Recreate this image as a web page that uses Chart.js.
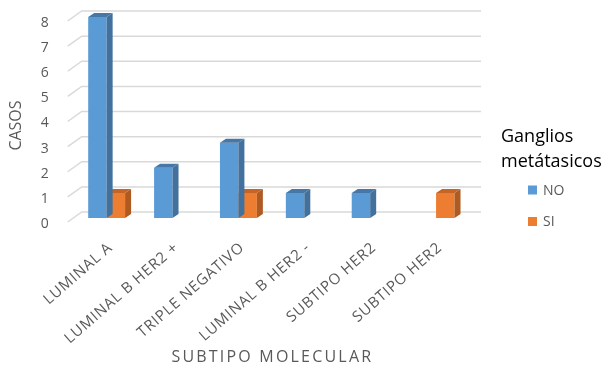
<!DOCTYPE html>
<html>
<head>
<meta charset="utf-8">
<script src="https://cdn.jsdelivr.net/npm/chart.js@4/dist/chart.umd.min.js"></script>
<style>
  html, body { margin: 0; padding: 0; background: #ffffff; }
  #wrap { width: 606px; height: 370px; }
</style>
</head>
<body>
<div id="wrap"><canvas id="c" width="606" height="370"></canvas></div>
<script>
// Casos por subtipo molecular, según presencia de ganglios metastásicos
const categories = ['LUMINAL A', 'LUMINAL B HER2 +', 'TRIPLE NEGATIVO', 'LUMINAL B HER2 -', 'SUBTIPO HER2', 'SUBTIPO HER2'];
const seriesNames = ['NO', 'SI'];
const noValues = [8, 2, 3, 1, 1, 0];
const siValues = [1, 0, 1, 0, 0, 1];
const yTicks = [0, 1, 2, 3, 4, 5, 6, 7, 8];
const legendTitle = ['Ganglios', 'metátasicos'];
const yTitle = 'CASOS';
const xTitle = 'SUBTIPO MOLECULAR';

const FONT = "'Open Sans', 'DejaVu Sans', sans-serif";
const GREY = '#595959';
const frontColors = ['#5B9BD5', '#ED7D31'];
const faceColors = [
  { side: '#41719C', top: '#4777A6' },
  { side: '#AE5A21', top: '#C46426' }
];
const DX = 6, DY = 4;
const LABEL_ANGLE = 41 * Math.PI / 180;

// back wall gridlines with a short floor diagonal on the left
const wallPlugin = {
  id: 'wall',
  beforeDatasetsDraw(chart) {
    const { ctx, chartArea: a, scales: { y } } = chart;
    ctx.save();
    ctx.strokeStyle = '#D9D9D9';
    ctx.lineWidth = 1.5;
    yTicks.forEach(v => {
      const yf = y.getPixelForValue(v);
      ctx.beginPath();
      ctx.moveTo(a.left - 6, yf + 4);
      ctx.lineTo(a.left + 8, yf - 6);
      ctx.lineTo(a.right + 12, yf - 6);
      ctx.stroke();
    });
    ctx.restore();
  }
};

// side and top faces giving each bar its depth
const bar3dPlugin = {
  id: 'bar3d',
  afterDatasetDraw(chart, args) {
    const ctx = chart.ctx;
    const c = faceColors[args.index];
    const values = chart.data.datasets[args.index].data;
    ctx.save();
    args.meta.data.forEach((bar, i) => {
      if (!values[i]) return;
      const { x, y, base, width } = bar.getProps(['x', 'y', 'base', 'width'], true);
      const l = x - width / 2, r = x + width / 2;
      ctx.fillStyle = c.side;
      ctx.beginPath();
      ctx.moveTo(r, y); ctx.lineTo(r + DX, y - DY);
      ctx.lineTo(r + DX, base - DY); ctx.lineTo(r, base);
      ctx.closePath(); ctx.fill();
      ctx.fillStyle = c.top;
      ctx.beginPath();
      ctx.moveTo(l, y); ctx.lineTo(l + DX, y - DY);
      ctx.lineTo(r + DX, y - DY); ctx.lineTo(r, y);
      ctx.closePath(); ctx.fill();
    });
    ctx.restore();
  }
};

// slanted category labels, axis titles and the legend block on the right
const textPlugin = {
  id: 'texts',
  afterDraw(chart) {
    const { ctx, chartArea: a, scales: { x } } = chart;

    ctx.save();
    ctx.fillStyle = GREY;
    ctx.font = `15px ${FONT}`;
    ctx.letterSpacing = '0.8px';
    ctx.textAlign = 'right';
    ctx.textBaseline = 'top';
    categories.forEach((label, i) => {
      const px = x.getPixelForValue(i);
      ctx.save();
      ctx.translate(px - 1, a.bottom + 22);
      ctx.rotate(-LABEL_ANGLE);
      ctx.fillText(label, 0, 0);
      ctx.restore();
    });
    ctx.restore();

    ctx.save();
    ctx.fillStyle = GREY;
    ctx.font = `16px ${FONT}`;
    ctx.letterSpacing = '2.2px';
    ctx.textAlign = 'center';
    ctx.textBaseline = 'middle';
    ctx.fillText(xTitle, (a.left + a.right) / 2 + 1, 357);
    ctx.restore();

    ctx.save();
    ctx.fillStyle = GREY;
    ctx.font = `16px ${FONT}`;
    ctx.textAlign = 'center';
    ctx.textBaseline = 'middle';
    ctx.translate(16, (a.top + a.bottom) / 2 + 8);
    ctx.rotate(-Math.PI / 2);
    ctx.fillText(yTitle, 0, 0);
    ctx.restore();

    ctx.save();
    ctx.fillStyle = '#000000';
    ctx.font = `18px ${FONT}`;
    ctx.textAlign = 'left';
    ctx.textBaseline = 'alphabetic';
    ctx.fillText(legendTitle[0], 501, 142);
    ctx.fillText(legendTitle[1], 501, 167);
    ctx.font = `14px ${FONT}`;
    ctx.textBaseline = 'middle';
    seriesNames.forEach((name, i) => {
      const cy = 190 + i * 31.5;
      ctx.fillStyle = frontColors[i];
      ctx.fillRect(528, cy - 4.5, 9, 9);
      ctx.fillStyle = GREY;
      ctx.fillText(name, 543, cy + 1);
    });
    ctx.restore();
  }
};

new Chart(document.getElementById('c'), {
  type: 'bar',
  data: {
    labels: categories,
    datasets: [
      { label: seriesNames[0], data: noValues, backgroundColor: frontColors[0] },
      { label: seriesNames[1], data: siValues, backgroundColor: frontColors[1] }
    ]
  },
  options: {
    responsive: false,
    animation: false,
    devicePixelRatio: 1,
    layout: { padding: { top: 17, right: 137, bottom: 0, left: 0 } },
    datasets: { bar: { categoryPercentage: 0.56, barPercentage: 1 } },
    plugins: { legend: { display: false }, tooltip: { enabled: false } },
    scales: {
      x: {
        grid: { display: false, drawTicks: false },
        border: { display: false },
        ticks: { display: false },
        afterFit(scale) {
          scale.height = 152;
          scale.paddingLeft = 0;
          scale.paddingRight = 0;
        }
      },
      y: {
        min: 0,
        max: 8,
        grid: { display: false, drawTicks: false },
        border: { display: false },
        afterBuildTicks(scale) { scale.ticks = yTicks.map(v => ({ value: v })); },
        ticks: {
          color: GREY,
          font: { family: FONT, size: 14 },
          padding: 25,
          labelOffset: 6
        },
        afterFit(scale) {
          scale.width = 73.7;
          scale.paddingTop = 0;
          scale.paddingBottom = 0;
        }
      }
    }
  },
  plugins: [wallPlugin, bar3dPlugin, textPlugin]
});
</script>
</body>
</html>
